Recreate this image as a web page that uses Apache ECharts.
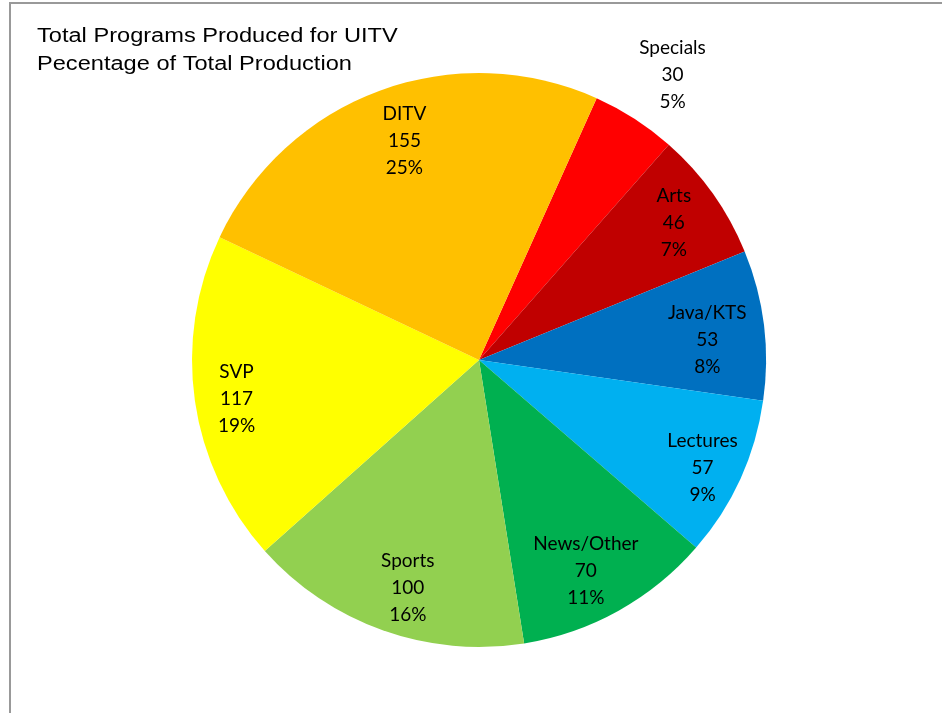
<!DOCTYPE html>
<html>
<head>
<meta charset="utf-8">
<script src="https://cdn.jsdelivr.net/npm/echarts@6/dist/echarts.min.js"></script>
<style>
html,body{margin:0;padding:0;background:#fff;}
#chart{width:942px;height:713px;}
</style>
</head>
<body>
<div id="chart"></div>
<script>
// Data (clockwise from Specials)
const categories = ['Specials', 'Arts', 'Java/KTS', 'Lectures', 'News/Other', 'Sports', 'SVP', 'DITV'];
const programs = [30, 46, 53, 57, 70, 100, 117, 155];
const colors = ['#FF0000', '#C00000', '#0070C0', '#00B0F0', '#00B050', '#92D050', '#FFFF00', '#FFC000'];
const titleLines = ['Total Programs Produced for UITV', 'Pecentage of Total Production'];

// label layout: distance from pie centre (px) and small nudges [dx, dy]
const labelRadius = [345, 236, 228, 247, 231, 236, 246, 233];
const labelNudge = [[5, 7], [0, 1], [-1, 8], [-4, 4], [-7, 6], [9, 3], [4, 3], [7, 2]];

const CX = 479, CY = 360, R = 287;
const START = 65.8;

function nudgePadding(n) {
  const dx = n[0];
  return [0, Math.max(0, -2 * dx), 0, Math.max(0, 2 * dx)];
}

function overlay(idx) {
  const mid = labelRadius[idx];
  const dy = labelNudge[idx][1];
  return {
    type: 'pie',
    center: [CX, CY],
    radius: [mid - 50, mid + 50],
    startAngle: START,
    clockwise: true,
    silent: true,
    percentPrecision: 0,
    avoidLabelOverlap: false,
    itemStyle: { color: 'rgba(0,0,0,0)', borderWidth: 0 },
    emphasis: { disabled: true },
    labelLine: { show: false },
    z: 5,
    data: categories.map((c, i) => ({
      name: c,
      value: programs[i],
      label: {
        show: i === idx,
        position: 'inside',
        formatter: '{t| }\n{b}\n{c}\n{d}%',
        align: 'center',
        fontFamily: 'Lato',
        fontSize: 19,
        lineHeight: 27,
        color: '#000',
        backgroundColor: 'rgba(255,255,255,0)',
        padding: nudgePadding(labelNudge[idx]),
        rich: {
          t: { fontSize: 1, lineHeight: 2 * dy, height: 2 * dy }
        }
      }
    }))
  };
}

const chart = echarts.init(document.getElementById('chart'), null, { renderer: 'canvas' });
chart.setOption({
  animation: false,
  backgroundColor: '#fff',
  graphic: [
    {
      type: 'rect',
      shape: { x: 10, y: 3, width: 1000, height: 800 },
      style: { fill: 'none', stroke: '#999', lineWidth: 2 },
      silent: true,
      z: 100
    },
    {
      type: 'text',
      x: 37,
      y: 22,
      scaleX: 1.18,
      silent: true,
      z: 100,
      style: {
        text: titleLines.join('\n'),
        font: '20px "Liberation Sans", Arial, sans-serif',
        lineHeight: 28,
        fill: '#000',
        verticalAlign: 'top',
        align: 'left'
      }
    }
  ],
  series: [
    {
      type: 'pie',
      center: [CX, CY],
      radius: [0, R],
      startAngle: START,
      clockwise: true,
      silent: true,
      label: { show: false },
      labelLine: { show: false },
      itemStyle: { borderWidth: 0 },
      emphasis: { disabled: true },
      data: categories.map((c, i) => ({ name: c, value: programs[i], itemStyle: { color: colors[i] } }))
    }
  ].concat(categories.map((c, i) => overlay(i)))
});
</script>
</body>
</html>
